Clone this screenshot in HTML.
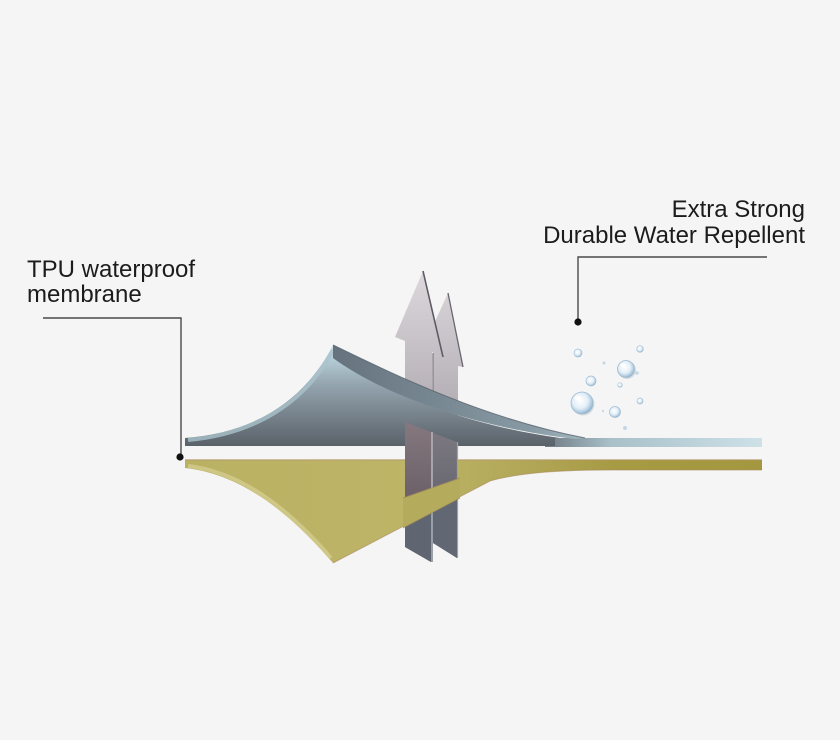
<!DOCTYPE html>
<html><head><meta charset="utf-8"><style>
html,body{margin:0;padding:0;background:#f5f5f5;}
svg{display:block;}
text{font-family:"Liberation Sans",sans-serif;font-size:24px;fill:#1c1c1c;}
</style></head><body>
<svg width="840" height="740" viewBox="0 0 840 740" xmlns="http://www.w3.org/2000/svg">
<defs>
  <linearGradient id="faceG" gradientUnits="userSpaceOnUse" x1="0" y1="345" x2="0" y2="446">
    <stop offset="0" stop-color="#c6e2ec"/>
    <stop offset="0.4" stop-color="#93a3ad"/>
    <stop offset="1" stop-color="#5a6169"/>
  </linearGradient>
  <linearGradient id="stripG" gradientUnits="userSpaceOnUse" x1="545" y1="0" x2="762" y2="0">
    <stop offset="0" stop-color="#6e7a83"/>
    <stop offset="0.3" stop-color="#a9c0c9"/>
    <stop offset="1" stop-color="#cde1e7"/>
  </linearGradient>
  <linearGradient id="ridgeG" gradientUnits="userSpaceOnUse" x1="333" y1="0" x2="580" y2="0">
    <stop offset="0" stop-color="#66737e"/>
    <stop offset="0.8" stop-color="#879aa4"/>
    <stop offset="1" stop-color="#9fb4bd"/>
  </linearGradient>
  <linearGradient id="yelG" gradientUnits="userSpaceOnUse" x1="185" y1="0" x2="762" y2="0">
    <stop offset="0" stop-color="#bab163"/>
    <stop offset="0.4" stop-color="#bdb467"/>
    <stop offset="0.6" stop-color="#b1a656"/>
    <stop offset="0.75" stop-color="#a69a43"/>
    <stop offset="1" stop-color="#a3973f"/>
  </linearGradient>
  <linearGradient id="arrowG" gradientUnits="userSpaceOnUse" x1="0" y1="271" x2="0" y2="440">
    <stop offset="0" stop-color="#dcd8dc"/>
    <stop offset="1" stop-color="#aaa4ab"/>
  </linearGradient>
  <linearGradient id="shaftTop" gradientUnits="userSpaceOnUse" x1="0" y1="422" x2="0" y2="500">
    <stop offset="0" stop-color="#85787f"/>
    <stop offset="1" stop-color="#6b6068"/>
  </linearGradient>
  <linearGradient id="shaftTop2" gradientUnits="userSpaceOnUse" x1="0" y1="432" x2="0" y2="500">
    <stop offset="0" stop-color="#7b7880"/>
    <stop offset="1" stop-color="#676670"/>
  </linearGradient>
  <radialGradient id="drop" cx="0.42" cy="0.4" r="0.62">
    <stop offset="0" stop-color="#ffffff"/>
    <stop offset="0.55" stop-color="#e4eff7"/>
    <stop offset="0.85" stop-color="#aecbe0"/>
    <stop offset="1" stop-color="#87abc6"/>
  </radialGradient>
</defs>

<rect width="840" height="740" fill="#f5f5f5"/>

<!-- labels -->
<text x="27" y="277">TPU waterproof</text>
<text x="27" y="302">membrane</text>
<text x="805" y="217" text-anchor="end">Extra Strong</text>
<text x="805" y="243" text-anchor="end">Durable Water Repellent</text>

<!-- leader lines -->
<polyline points="43,318 181,318 181,457" fill="none" stroke="#4a4a4a" stroke-width="1.4"/>
<circle cx="180" cy="457" r="3.6" fill="#111"/>
<polyline points="767,257 578,257 578,322" fill="none" stroke="#4a4a4a" stroke-width="1.4"/>
<circle cx="578" cy="322" r="3.6" fill="#111"/>

<!-- yellow fabric -->
<path d="M185,460 L762,460 L762,470 L612,470 C565,470 522,472 490,481 L333,563 C300,525 250,475 185,468 Z" fill="url(#yelG)"/>
<path d="M188,466 C250,473 300,522 331,558" fill="none" stroke="#d2ca8c" stroke-width="4" opacity="0.85"/>
<line x1="185" y1="459.8" x2="762" y2="459.8" stroke="#b5956a" stroke-width="1.2" opacity="0.8"/>
<path d="M333,563 L490,481 C522,472 565,470 612,470 L762,470" fill="none" stroke="#a8895c" stroke-width="1" opacity="0.6"/>

<!-- upper arrows -->
<polygon points="448,293 463,367 458,366 458,440 433,440 433,326" fill="url(#arrowG)"/>
<line x1="448" y1="293" x2="463" y2="367" stroke="#6a6670" stroke-width="1.3"/>
<polygon points="423,271 395,337 405,341 405,440 432,440 432,352 443,357" fill="url(#arrowG)"/>
<line x1="423" y1="271" x2="443" y2="357" stroke="#5e5a64" stroke-width="1.6"/>
<line x1="433" y1="353" x2="433" y2="440" stroke="#8d8891" stroke-width="1.5"/>

<!-- blue membrane -->
<rect x="545" y="438" width="217" height="9" fill="url(#stripG)"/>
<path d="M185,438 C255,433 305,400 333,345 L333,357 C385,392 465,425 560,438 L580,438 L580,446 L185,446 Z" fill="url(#faceG)"/>
<rect x="555" y="438" width="30" height="9" fill="url(#stripG)"/>
<path d="M188,440 C255,434 306,402 333,350" fill="none" stroke="#aac3cc" stroke-width="4" opacity="0.8"/>
<path d="M333,345 C385,370 480,418 585,438 L575,439 C475,427 385,396 333,358 Z" fill="url(#ridgeG)"/>
<path d="M333,345 C385,370 480,418 585,438" fill="none" stroke="#56616b" stroke-width="1" opacity="0.8"/>

<!-- lower shafts -->
<polygon points="405,422 431,432 431,562 405,547" fill="url(#shaftTop)"/>
<polygon points="433,433 457,442 457,558 433,543" fill="url(#shaftTop2)"/>
<line x1="432" y1="432" x2="432" y2="562" stroke="#a7a5ab" stroke-width="2"/>
<line x1="457.5" y1="442" x2="457.5" y2="558" stroke="#9ea2a9" stroke-width="1.2"/>
<polygon points="405,520 431,508 431,562 405,547" fill="#5f6671"/>
<polygon points="433,507 457,497 457,558 433,543" fill="#616873"/>
<line x1="432" y1="508" x2="432" y2="562" stroke="#9aa0a8" stroke-width="2"/>

<!-- yellow passing in front of shafts -->
<polygon points="403,498 460,478 460,498 403,528" fill="#b5ab5d"/>
<line x1="403" y1="498" x2="460" y2="478" stroke="#a0885a" stroke-width="1" opacity="0.7"/>
<line x1="403" y1="528" x2="460" y2="498" stroke="#a0885a" stroke-width="1" opacity="0.6"/>

<!-- water drops -->
<g>
  <circle cx="583" cy="404" r="11.5" fill="#c4c9ce" opacity="0.6"/>
  <circle cx="582" cy="403" r="11" fill="url(#drop)" stroke="#9fbcd1" stroke-width="0.8"/>
  <ellipse cx="578" cy="398" rx="3.5" ry="2.5" fill="#fff" opacity="0.9"/>

  <circle cx="627" cy="370" r="9" fill="#c4c9ce" opacity="0.6"/>
  <circle cx="626" cy="369" r="8.5" fill="url(#drop)" stroke="#9fbcd1" stroke-width="0.8"/>
  <ellipse cx="623" cy="365" rx="2.6" ry="2" fill="#fff" opacity="0.9"/>

  <circle cx="615" cy="412" r="5.5" fill="url(#drop)" stroke="#a2bfd3" stroke-width="0.7"/>
  <circle cx="591" cy="381" r="5" fill="url(#drop)" stroke="#a2bfd3" stroke-width="0.7"/>
  <circle cx="578" cy="353" r="4" fill="url(#drop)" stroke="#a6c2d5" stroke-width="0.7"/>
  <circle cx="640" cy="349" r="3.3" fill="url(#drop)" stroke="#a6c2d5" stroke-width="0.7"/>
  <circle cx="640" cy="401" r="3" fill="url(#drop)" stroke="#a6c2d5" stroke-width="0.7"/>
  <circle cx="620" cy="385" r="2.3" fill="url(#drop)" stroke="#a9c4d6" stroke-width="0.6"/>
  <circle cx="604" cy="363" r="1.5" fill="#c4d7e4"/>
  <circle cx="637" cy="373" r="1.8" fill="#c4d7e4"/>
  <circle cx="625" cy="428" r="2" fill="#c4d7e4"/>
  <circle cx="603" cy="411" r="1.2" fill="#cbd9e3"/>
</g>
</svg>
</body></html>
